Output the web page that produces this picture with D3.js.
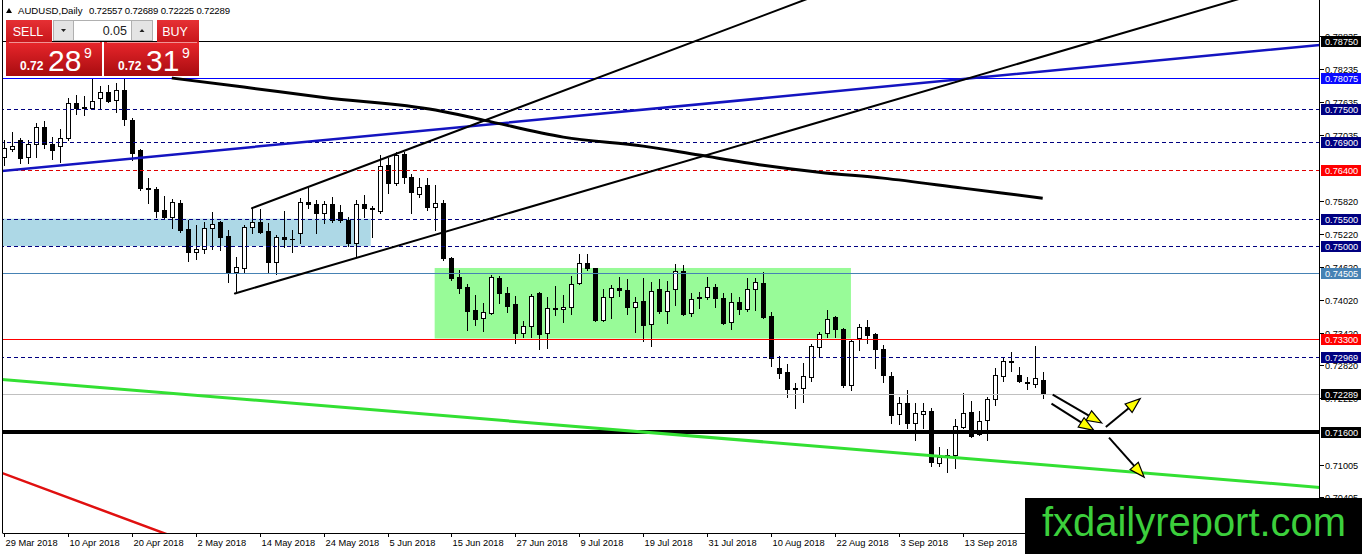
<!DOCTYPE html>
<html><head><meta charset="utf-8">
<script src="https://cdn.jsdelivr.net/npm/d3@7/dist/d3.min.js"></script>
<style>
html,body{margin:0;padding:0;background:#fff;overflow:hidden;}
svg{display:block;}
text{font-family:"Liberation Sans",Arial,sans-serif;}
</style></head><body>
<svg id="chart" width="1362" height="554"></svg>
<script>
// ---------------- DATA ----------------
const symbolName = "AUDUSD,Daily";
const opens = [0.76627,0.76773,0.76938,0.76627,0.76865,0.77176,0.76865,0.76828,0.76975,0.77615,
0.77542,0.77524,0.77707,0.77816,0.77670,0.77853,0.77304,0.76755,0.76060,0.76041,
0.75657,0.75529,0.75785,0.75309,0.74888,0.74943,0.75328,0.75437,0.75181,0.74522,
0.74596,0.75346,0.75437,0.75273,0.74705,0.75163,0.75126,0.75236,0.75803,0.75767,
0.75602,0.75767,0.75620,0.75474,0.75053,0.75767,0.75694,0.75639,0.76481,0.76151,
0.76682,0.76261,0.75950,0.76115,0.75712,0.75785,0.74779,0.74431,0.74248,0.73827,
0.73681,0.73772,0.74413,0.74138,0.73937,0.73406,0.73534,0.74138,0.73406,0.73864,
0.73845,0.73882,0.74321,0.74687,0.74596,0.73644,0.74065,0.74230,0.74193,0.73882,
0.73992,0.73571,0.74211,0.73809,0.74211,0.74541,0.73772,0.74065,0.74065,0.74248,
0.74047,0.73607,0.73973,0.73845,0.74211,0.74321,0.73717,0.72766,0.72692,0.72400,
0.72400,0.72601,0.73150,0.73406,0.73699,0.73479,0.72455,0.73315,0.73516,0.73388,
0.73113,0.72619,0.71924,0.72125,0.71759,0.71924,0.71979,0.71027,0.71155,0.71174,
0.71686,0.71960,0.71558,0.71814,0.72198,0.72619,0.72894,0.72638,0.72509,0.72473,
0.72557];
const highs = [0.76938,0.77084,0.76975,0.76938,0.77249,0.77286,0.76993,0.77139,0.77707,0.77762,
0.77743,0.78073,0.77926,0.77945,0.77981,0.78073,0.77341,0.76770,0.76243,0.76078,
0.75913,0.75858,0.75840,0.75474,0.75383,0.75437,0.75620,0.75456,0.75291,0.74797,
0.75383,0.75694,0.75675,0.75419,0.75200,0.75639,0.75291,0.75877,0.76060,0.75840,
0.75822,0.75895,0.75749,0.75529,0.75840,0.75932,0.75730,0.76664,0.76609,0.76718,
0.76718,0.76316,0.76243,0.76243,0.76115,0.75840,0.74797,0.74559,0.74303,0.74102,
0.73955,0.74468,0.74449,0.74248,0.74083,0.73626,0.74120,0.74156,0.74065,0.74266,
0.74102,0.74449,0.74852,0.74852,0.74605,0.74211,0.74285,0.74431,0.74394,0.74065,
0.74413,0.74339,0.74394,0.74358,0.74669,0.74650,0.74138,0.74156,0.74431,0.74303,
0.74138,0.74138,0.74065,0.74413,0.74413,0.74522,0.73790,0.72985,0.72839,0.72491,
0.72857,0.73205,0.73424,0.73827,0.73717,0.73498,0.73296,0.73571,0.73644,0.73406,
0.73187,0.72692,0.72235,0.72363,0.72125,0.72125,0.72034,0.71320,0.71283,0.71832,
0.72308,0.72162,0.71979,0.72235,0.72766,0.72949,0.73058,0.72784,0.72601,0.73168,
0.72689];
const lows = [0.76481,0.76737,0.76517,0.76517,0.76627,0.76792,0.76590,0.76535,0.76938,0.77414,
0.77396,0.77505,0.77524,0.77633,0.77450,0.77213,0.76572,0.76023,0.75785,0.75529,
0.75492,0.75328,0.75254,0.74724,0.74760,0.74870,0.74943,0.74925,0.74339,0.74138,
0.74522,0.75236,0.75236,0.74504,0.74486,0.74980,0.74888,0.75053,0.75694,0.75236,
0.75419,0.75437,0.75437,0.74998,0.74797,0.75529,0.75163,0.75602,0.75968,0.76115,
0.76151,0.75602,0.75895,0.75657,0.75291,0.74742,0.74376,0.74138,0.73461,0.73553,
0.73443,0.73754,0.73955,0.73790,0.73223,0.73333,0.73333,0.73113,0.73132,0.73736,
0.73607,0.73754,0.74303,0.74559,0.73626,0.73626,0.73681,0.74083,0.73754,0.73424,
0.73260,0.73168,0.73772,0.73589,0.73919,0.73736,0.73717,0.73864,0.74028,0.73882,
0.73571,0.73479,0.73754,0.73809,0.73827,0.73680,0.72802,0.72583,0.72235,0.72034,
0.72143,0.72528,0.72967,0.73333,0.73333,0.72418,0.72363,0.73095,0.73223,0.72766,
0.72509,0.71759,0.71741,0.71668,0.71448,0.71668,0.70972,0.70972,0.70862,0.70936,
0.71668,0.71503,0.71540,0.71448,0.72089,0.72528,0.72711,0.72509,0.72381,0.72418,
0.72225];
const closes = [0.76792,0.76828,0.76609,0.76865,0.77176,0.76865,0.76755,0.76975,0.77615,0.77524,
0.77524,0.77652,0.77816,0.77652,0.77853,0.77322,0.76700,0.76060,0.76041,0.75639,
0.75529,0.75803,0.75291,0.74888,0.74943,0.75328,0.75401,0.75163,0.74522,0.74614,
0.75346,0.75437,0.75254,0.74705,0.75163,0.75126,0.75135,0.75803,0.75767,0.75602,
0.75767,0.75474,0.75474,0.75053,0.75767,0.75694,0.75685,0.76462,0.76151,0.76664,
0.76261,0.75986,0.76078,0.75712,0.75785,0.74779,0.74413,0.74230,0.73809,0.73662,
0.73790,0.74431,0.74138,0.73900,0.73406,0.73534,0.74083,0.73388,0.73864,0.73845,
0.73882,0.74303,0.74687,0.74596,0.73644,0.74065,0.74230,0.74193,0.73882,0.73973,
0.73553,0.74175,0.73809,0.74175,0.74541,0.73754,0.74028,0.74047,0.74248,0.74047,
0.73589,0.73973,0.73845,0.74211,0.74339,0.73699,0.72949,0.72674,0.72381,0.72390,
0.72619,0.73168,0.73388,0.73662,0.73479,0.72455,0.73260,0.73516,0.73370,0.73113,
0.72638,0.71906,0.72125,0.71759,0.71942,0.71979,0.71045,0.71137,0.71174,0.71704,
0.71942,0.71521,0.71796,0.72198,0.72638,0.72894,0.72885,0.72528,0.72500,0.72583,
0.72289];

const dateTickIndex = [0,8,16,24,32,40,48,56,64,72,80,88,96,104,112,120];
const dateTickLabels = ["29 Mar 2018","10 Apr 2018","20 Apr 2018","2 May 2018","14 May 2018","24 May 2018","5 Jun 2018","15 Jun 2018","27 Jun 2018","9 Jul 2018","19 Jul 2018","31 Jul 2018","10 Aug 2018","22 Aug 2018","3 Sep 2018","13 Sep 2018"];
const priceTickValues = [0.78835,0.78235,0.77635,0.77035,0.75820,0.75220,0.74620,0.74020,0.73420,0.72820,0.72220,0.71005,0.70405];

const levelPrices = [0.78750,0.78075,0.77500,0.76900,0.76400,0.75500,0.75000,0.74505,0.73300,0.72969,0.72289,0.71600];

const maIndex  = [21,30,40,54,60,70,80,87,95,102,110,120,130];
const maValues = [0.78073,0.77908,0.77716,0.77487,0.77304,0.76993,0.76828,0.76664,0.76480,0.76352,0.76243,0.76060,0.75877];

// trend lines: [startIndex, startPrice, endIndex, endPrice]
const trendBlue   = [-0.5,0.76371,164.7,0.78677];
const channelUp   = [31.04,0.75694,103.5,0.79683];
const channelLow  = [28.9,0.74133,158.4,0.79683];
const trendGreen  = [-0.5,0.72564,164.7,0.70588];
const trendRed    = [-1.13,0.70899,20.8,0.69709];

// zones: [fromIndex, toIndex, topPrice, bottomPrice]
const zoneBlue  = [-1,45.9,0.75500,0.75000];
const zoneGreen = [53.9,106.0,0.74600,0.73310];

// arrows
const arrowStarts = [[131.25,0.72284],[131.1,0.72120],[137.9,0.71691],[138.3,0.71497]];
const arrowTips   = [[137.4,0.71765],[136.4,0.71631],[142.2,0.72211],[142.7,0.70776]];

const bidPrice = 0.72289, askPrice = 0.72319, lotSize = "0.05";
const watermark = "fxdailyreport.com";

// ---------------- STYLES ----------------
const levelStyles = [
 {c:"#000000",w:1,d:null,bg:"#000000"},
 {c:"#0000ff",w:1,d:null,bg:"#0a0aff"},
 {c:"#000080",w:1,d:"4,3",bg:"#000080"},
 {c:"#000080",w:1,d:"4,3",bg:"#000080"},
 {c:"#e00000",w:1,d:"4,3",bg:"#ff0000"},
 {c:"#000080",w:1,d:"4,3",bg:"#000080"},
 {c:"#000080",w:1,d:"4,3",bg:"#000080"},
 {c:"#4682b4",w:1,d:null,bg:"#4682b4"},
 {c:"#ff0000",w:1,d:null,bg:"#ff0000"},
 {c:"#000080",w:1,d:"4,3",bg:"#000080"},
 {c:"#c0c0c0",w:1,d:null,bg:"#000000"},
 {c:"#000000",w:4,d:null,bg:"#000000"}
];

// ---------------- CHART ----------------
const svg = d3.select("#chart");
const PL=2.5, PR=1320, PB=533;
const x = d3.scaleLinear().domain([0,130]).range([4,4+7.99*130]);
const y = d3.scaleLinear().domain([0.69754,0.795]).range([533,0]);

const defs = svg.append("defs");
defs.append("clipPath").attr("id","plotClip").append("rect")
  .attr("x",PL).attr("y",0).attr("width",PR-PL).attr("height",PB);
const g1 = defs.append("linearGradient").attr("id","redBig").attr("x1",0).attr("y1",0).attr("x2",0).attr("y2",1);
g1.append("stop").attr("offset","0%").attr("stop-color","#e8262b");
g1.append("stop").attr("offset","100%").attr("stop-color","#a80c10");
const g2 = defs.append("linearGradient").attr("id","redTop").attr("x1",0).attr("y1",0).attr("x2",0).attr("y2",1);
g2.append("stop").attr("offset","0%").attr("stop-color","#e63034");
g2.append("stop").attr("offset","100%").attr("stop-color","#c8161b");

svg.append("rect").attr("width",1362).attr("height",554).attr("fill","#fff");

const plot = svg.append("g").attr("clip-path","url(#plotClip)");

// zones
[[zoneBlue,"#add8e6"],[zoneGreen,"#98fb98"]].forEach(([z,col])=>{
  plot.append("rect").attr("x",x(z[0])).attr("y",y(z[2]))
    .attr("width",x(z[1])-x(z[0])).attr("height",y(z[3])-y(z[2])).attr("fill",col);
});

// candles
const idx = d3.range(opens.length);
const cg = plot.append("g");
idx.forEach(i=>{
  const cx = Math.round(x(i));
  const o=opens[i], c=closes[i], h=highs[i], l=lows[i];
  const bull = c>=o;
  cg.append("line").attr("x1",cx+0.5).attr("x2",cx+0.5)
    .attr("y1",Math.round(y(h))).attr("y2",Math.round(y(l))+1).attr("stroke","#000").attr("stroke-width",1);
  const yt = Math.round(y(Math.max(o,c))), yb = Math.round(y(Math.min(o,c)));
  if (yb-yt < 1) {
    cg.append("line").attr("x1",cx-2).attr("x2",cx+3).attr("y1",yt+0.5).attr("y2",yt+0.5).attr("stroke","#000");
  } else {
    cg.append("rect").attr("x",cx-2+0.5).attr("y",yt+0.5).attr("width",4).attr("height",yb-yt)
      .attr("fill",bull?"#fff":"#000").attr("stroke","#000").attr("stroke-width",1);
  }
});

// horizontal levels
levelPrices.forEach((p,k)=>{
  const s=levelStyles[k];
  const yy = s.w%2===1 ? Math.round(y(p))+0.5 : Math.round(y(p));
  plot.append("line").attr("x1",0).attr("x2",PR).attr("y1",yy).attr("y2",yy)
    .attr("stroke",s.c).attr("stroke-width",s.w).attr("stroke-dasharray",s.d);
});

// trend lines
function tl(a,col,w){
  plot.append("line").attr("x1",x(a[0])).attr("y1",y(a[1])).attr("x2",x(a[2])).attr("y2",y(a[3]))
    .attr("stroke",col).attr("stroke-width",w).attr("stroke-linecap","round");
}
tl(trendGreen,"#33e033",3);
tl(trendRed,"#e01010",2.5);
tl(trendBlue,"#1414c0",2.5);
tl(channelUp,"#000",2);
tl(channelLow,"#000",2);

// moving average-like thick curve
const maPts = maIndex.map((d,i)=>[x(d),y(maValues[i])]);
plot.append("path").attr("d",d3.line().curve(d3.curveMonotoneX)(maPts))
  .attr("fill","none").attr("stroke","#000").attr("stroke-width",3);

// arrows
arrowStarts.forEach((s,i)=>{
  const x0=x(s[0]), y0=y(s[1]), x1=x(arrowTips[i][0]), y1=y(arrowTips[i][1]);
  const ang=Math.atan2(y1-y0,x1-x0), L=15, hw=5.5;
  const bx=x1-L*Math.cos(ang), by=y1-L*Math.sin(ang);
  plot.append("line").attr("x1",x0).attr("y1",y0).attr("x2",bx).attr("y2",by)
    .attr("stroke","#000").attr("stroke-width",2);
  const px=-Math.sin(ang), py=Math.cos(ang);
  plot.append("path").attr("d",`M${x1},${y1}L${bx+px*hw},${by+py*hw}L${bx-px*hw},${by-py*hw}Z`)
    .attr("fill","#ffff00").attr("stroke","#000").attr("stroke-width",1.2).attr("stroke-linejoin","miter");
});

// frame
svg.append("line").attr("x1",PL).attr("x2",PL).attr("y1",0).attr("y2",PB).attr("stroke","#000");
svg.append("line").attr("x1",PR-0.5).attr("x2",PR-0.5).attr("y1",0).attr("y2",PB).attr("stroke","#000");
svg.append("line").attr("x1",PL).attr("x2",PR).attr("y1",PB+0.5).attr("y2",PB+0.5).attr("stroke","#000");

// price ticks
priceTickValues.forEach(p=>{
  const yy=Math.round(y(p))+0.5;
  svg.append("line").attr("x1",PR).attr("x2",PR+4).attr("y1",yy).attr("y2",yy).attr("stroke","#000");
  svg.append("text").attr("x",PR+5).attr("y",yy+3.5).attr("font-size",9.2).attr("fill","#000").text(p.toFixed(5));
});
// level labels
levelPrices.forEach((p,k)=>{
  const yy=Math.round(y(p));
  svg.append("rect").attr("x",PR+1).attr("y",yy-5).attr("width",40).attr("height",11).attr("fill",levelStyles[k].bg);
  svg.append("text").attr("x",PR+5).attr("y",yy+4).attr("font-size",9.2).attr("fill","#fff").text(p.toFixed(5));
});

// date ticks
dateTickIndex.forEach((d,i)=>{
  const xx=Math.round(x(d))+0.5;
  svg.append("line").attr("x1",xx).attr("x2",xx).attr("y1",PB).attr("y2",PB+4).attr("stroke","#000");
  svg.append("text").attr("x",xx+1).attr("y",PB+13).attr("font-size",9.3).attr("fill","#000").text(dateTickLabels[i]);
});

// header
const last = opens.length-1;
svg.append("path").attr("d","M6,13L9,8L12,13Z").attr("fill","#000");
svg.append("text").attr("x",18).attr("y",14).attr("font-size",9.6).attr("fill","#000").text(symbolName);
svg.append("text").attr("x",89).attr("y",14).attr("font-size",9.6).attr("fill","#000")
  .attr("textLength",141).attr("lengthAdjust","spacing")
  .text([opens[last],highs[last],lows[last],closes[last]].map(v=>v.toFixed(5)).join(" "));

// trading panel
const pn = svg.append("g");
function priceParts(p){const s=p.toFixed(5);return [s.slice(0,4),s.slice(4,6),s.slice(6)];}
pn.append("rect").attr("x",6).attr("y",20).attr("width",46).attr("height",22).attr("fill","url(#redTop)");
pn.append("rect").attr("x",157).attr("y",20).attr("width",42).attr("height",22).attr("fill","url(#redTop)");
pn.append("text").attr("x",28).attr("y",35.5).attr("text-anchor","middle").attr("font-size",12.5).attr("fill","#fff").text("SELL");
pn.append("text").attr("x",175).attr("y",35.5).attr("text-anchor","middle").attr("font-size",12.5).attr("fill","#fff").text("BUY");
pn.append("rect").attr("x",53.5).attr("y",20.5).attr("width",20).attr("height",20).attr("fill","#e4e4e4").attr("stroke","#b0b0b0");
pn.append("rect").attr("x",73.5).attr("y",20.5).attr("width",58).attr("height",20).attr("fill","#fff").attr("stroke","#b0b0b0");
pn.append("rect").attr("x",131.5).attr("y",20.5).attr("width",21).attr("height",20).attr("fill","#e4e4e4").attr("stroke","#b0b0b0");
pn.append("path").attr("d","M61,29L66,29L63.5,32Z").attr("fill","#222");
pn.append("path").attr("d","M139.5,32L144.5,32L142,29Z").attr("fill","#222");
pn.append("text").attr("x",127).attr("y",35).attr("text-anchor","end").attr("font-size",12.5).attr("fill","#222").text(lotSize);
pn.append("rect").attr("x",6).attr("y",42).attr("width",96).attr("height",34).attr("fill","url(#redBig)");
pn.append("rect").attr("x",104).attr("y",42).attr("width",95).attr("height",34).attr("fill","url(#redBig)");
pn.append("line").attr("x1",9).attr("x2",100).attr("y1",42.5).attr("y2",42.5).attr("stroke","#f4b0b0").attr("stroke-width",0.8);
pn.append("line").attr("x1",107).attr("x2",197).attr("y1",42.5).attr("y2",42.5).attr("stroke","#f4b0b0").attr("stroke-width",0.8);
[[bidPrice,20],[askPrice,118]].forEach(([p,x0])=>{
  const [a,b,c]=priceParts(p);
  pn.append("text").attr("x",x0).attr("y",70).attr("font-size",12).attr("font-weight","bold").attr("fill","#fff").text(a);
  pn.append("text").attr("x",x0+28).attr("y",70.5).attr("font-size",30).attr("fill","#fff").text(b);
  pn.append("text").attr("x",x0+64).attr("y",58).attr("font-size",14).attr("fill","#fff").text(c);
});

// watermark
svg.append("rect").attr("x",1025).attr("y",498).attr("width",337).attr("height",56).attr("fill","#000");
svg.append("text").attr("x",1042).attr("y",536).attr("font-size",40).attr("fill","#3ccf3c")
  .attr("textLength",304).attr("lengthAdjust","spacingAndGlyphs").text(watermark);
</script>
</body></html>
